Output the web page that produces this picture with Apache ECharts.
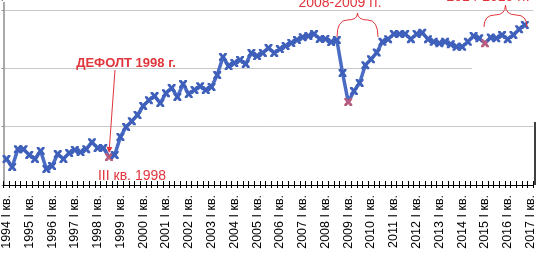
<!DOCTYPE html>
<html><head><meta charset="utf-8">
<script src="https://cdn.jsdelivr.net/npm/echarts@6/dist/echarts.min.js"></script>
<style>html,body{margin:0;padding:0;background:#fff}#c{width:537px;height:257px}</style>
</head><body><div id="c"></div>
<script>
const years = [1994,1995,1996,1997,1998,1999,2000,2001,2002,2003,2004,2005,2006,2007,2008,2009,2010,2011,2012,2013,2014,2015,2016,2017];
const quarters = ['I','II','III','IV'];
const values = [
 8.9,6.2,12.3,12.3, 10.3,8.9,11.7,5.5, 6.5,10.6,8.9,11.0, 12.0,11.3,12.3,14.7,
 12.7,12.7,9.6,10.3, 16.5,19.9,21.9,24.0, 27.1,29.1,30.5,28.1, 31.5,33.3,30.2,34.6,
 31.2,32.6,33.9,32.6, 33.6,37.7,43.9,40.8, 41.8,42.9,41.5,45.3, 44.2,45.3,47.0,45.3,
 46.6,47.7,48.7,49.7, 50.7,51.1,51.8,50.1, 50.1,49.0,49.7,38.4, 28.5,32.2,35.0,41.1,
 43.1,45.4,49.1,50.0, 51.8,51.8,51.8,50.0, 51.8,52.2,50.0,49.1, 48.6,49.1,48.3,47.4,
 47.4,49.1,51.1,50.3, 48.6,50.6,50.3,51.4, 50.0,51.4,53.4,54.9
];
const highlighted = [18, 60, 84];
const yTicks = [0, 20, 40, 60];

const categories = [];
years.forEach(y => quarters.forEach(q => categories.push(y + ' ' + q + ' кв.')));
categories.length = (years.length - 1) * 4 + 1;

const RED = '#e0353b';
const FONT = "'Liberation Sans', Arial, sans-serif";
const xPath = 'path://M0,0H3L5,2.5L7,0H10V2L7.5,5L10,8V10H7L5,7.5L3,10H0V8L2.5,5L0,2Z';

const seriesData = values.map((v, i) => highlighted.includes(i)
  ? {value: v, itemStyle: {color: '#b65c7f'}} : v);

const chart = echarts.init(document.getElementById('c'), null, {renderer: 'canvas'});
const option = {
  animation: false,
  backgroundColor: '#fff',
  grid: {left: 2, right: 2, top: 0, bottom: 72, containLabel: false},
  xAxis: [{
    type: 'category', data: categories, boundaryGap: true,
    axisLine: {show: true, lineStyle: {color: '#000', width: 1}},
    axisTick: {show: true, interval: 0, length: 3, lineStyle: {color: '#000'}},
    axisLabel: {interval: 3, rotate: 90, margin: 10, fontSize: 12.5, color: '#000', fontFamily: FONT}
  }, {
    type: 'category', data: categories, boundaryGap: true, position: 'bottom',
    axisLine: {show: false},
    axisTick: {show: true, inside: true, interval: 0, length: 4, lineStyle: {color: '#000'}},
    axisLabel: {show: false}
  }],
  yAxis: {
    type: 'value', min: yTicks[0], max: 63.43, interval: yTicks[1] - yTicks[0],
    axisLine: {show: true, lineStyle: {color: '#8c8c8c', width: 1.5}},
    axisTick: {show: true, length: 2, lineStyle: {color: '#8c8c8c'}},
    axisLabel: {show: false},
    splitLine: {show: true, lineStyle: {color: '#c8c8c8', width: 1}}
  },
  series: [{
    type: 'line', data: seriesData, z: 3,
    symbol: xPath, symbolSize: 8, showAllSymbol: true,
    lineStyle: {color: '#4a6cc4', width: 3.5},
    itemStyle: {color: '#3f60ba'}
  }]
};
chart.setOption(option);

const end = chart.convertToPixel({seriesIndex: 0}, [highlighted[0], values[highlighted[0]]]);
const sx = 115, sy = 70;
const ex = end[0], ey = end[1] - 4;
const ang = Math.atan2(ey - sy, ex - sx);
const ah = 6, aw = 3;
const bx = ex - ah * Math.cos(ang), by = ey - ah * Math.sin(ang);
const arrowHead = [[ex, ey], [bx + aw * Math.sin(ang), by - aw * Math.cos(ang)], [bx - aw * Math.sin(ang), by + aw * Math.cos(ang)]];

function brace(x1, x2, yEnd, yShoulder, yPeak) {
  const m = (x1 + x2) / 2, q = (x2 - x1) / 4;
  const st = {stroke: RED, lineWidth: 1, fill: null};
  return [
    {type: 'bezierCurve', z: 4, shape: {x1: x1, y1: yEnd, cpx1: x1, cpy1: yShoulder, x2: x1 + q, y2: yShoulder}, style: st},
    {type: 'bezierCurve', z: 4, shape: {x1: x1 + q, y1: yShoulder, cpx1: m, cpy1: yShoulder, x2: m, y2: yPeak}, style: st},
    {type: 'bezierCurve', z: 4, shape: {x1: m, y1: yPeak, cpx1: m, cpy1: yShoulder, x2: x2 - q, y2: yShoulder}, style: st},
    {type: 'bezierCurve', z: 4, shape: {x1: x2 - q, y1: yShoulder, cpx1: x2, cpy1: yShoulder, x2: x2, y2: yEnd}, style: st}
  ];
}

chart.setOption({graphic: [
  {type: 'rect', z: 1, shape: {x: 3, y: 0, width: 540, height: 2}, style: {fill: '#fff'}},
  {type: 'rect', z: 1, shape: {x: 472, y: 64, width: 70, height: 10}, style: {fill: '#fff'}},
  {type: 'text', z: 1, style: {text: 'I кв. 2009', x: 372, y: 124, textAlign: 'center', textVerticalAlign: 'bottom', fill: RED, font: '14px ' + FONT}},
  {type: 'rect', z: 1, shape: {x: 336, y: 95, width: 75, height: 26.5}, style: {fill: '#fff'}},
  {type: 'line', z: 1, shape: {x1: 535, y1: 122, x2: 535, y2: 185}, style: {stroke: '#000', lineWidth: 1.5}},
  {type: 'text', z: 4, style: {text: 'ДЕФОЛТ 1998 г.', x: 126, y: 63, textAlign: 'center', textVerticalAlign: 'middle', fill: RED, font: 'bold 13px ' + FONT}},
  {type: 'text', z: 4, style: {text: 'III кв. 1998', x: 132, y: 176, textAlign: 'center', textVerticalAlign: 'middle', fill: RED, font: '14px ' + FONT}},
  {type: 'text', z: 4, style: {text: '2008-2009 гг.', x: 340, y: 10, textAlign: 'center', textVerticalAlign: 'bottom', fill: RED, font: '14px ' + FONT}},
  {type: 'text', z: 4, style: {text: '2014-2015 гг.', x: 488, y: 4, textAlign: 'center', textVerticalAlign: 'bottom', fill: RED, font: '14px ' + FONT}},
  {type: 'line', z: 4, shape: {x1: sx, y1: sy, x2: bx, y2: by}, style: {stroke: RED, lineWidth: 1}},
  {type: 'polygon', z: 4, shape: {points: arrowHead}, style: {fill: RED}}
].concat(brace(337, 378, 37, 20, 13)).concat(brace(484, 527, 27, 15, 5))});
</script></body></html>
